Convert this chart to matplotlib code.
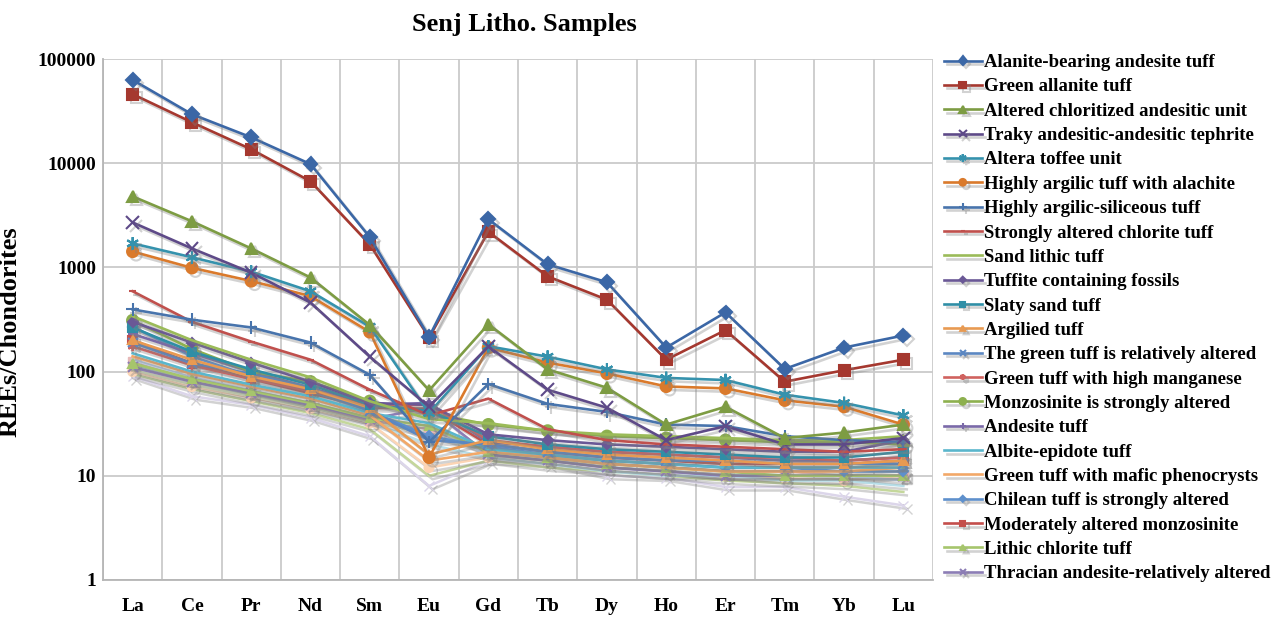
import matplotlib
matplotlib.use('Agg')
import matplotlib.pyplot as plt
import matplotlib.patheffects as pe
import numpy as np

matplotlib.rcParams['font.family'] = 'serif'
matplotlib.rcParams['font.serif'] = ['Liberation Serif', 'DejaVu Serif']
matplotlib.rcParams['font.weight'] = 'bold'

elements = ['La', 'Ce', 'Pr', 'Nd', 'Sm', 'Eu', 'Gd', 'Tb', 'Dy', 'Ho', 'Er', 'Tm', 'Yb', 'Lu']

# chondrite-normalised REE, one list per sample
alanite_tuff = [63000, 29500, 17700, 9800, 1950, 215, 2900, 1070, 720, 170, 370, 106, 170, 222]
green_allanite = [46000, 24700, 13600, 6700, 1660, 212, 2200, 820, 490, 130, 250, 80, 103, 130]
altered_chloritized = [4800, 2770, 1520, 800, 280, 66, 285, 105, 70, 31, 46, 23, 26, 31]
traky_tephrite = [2700, 1520, 890, 460, 139, 46, 174, 67, 45, 22, 30, 20, 20, 23]
altera_toffee = [1700, 1250, 910, 590, 270, 40, 175, 139, 105, 87, 83, 60, 50, 38]
argilic_alachite = [1420, 990, 740, 530, 240, 15, 170, 122, 96, 72, 69, 53, 46, 31]
argilic_siliceous = [395, 315, 265, 190, 93, 21, 76, 49, 41, 31, 30, 24, 22, 21]
strongly_chlorite = [590, 300, 194, 130, 67, 38, 55, 28, 22, 20, 19, 18, 17, 18]
sand_lithic = [340, 200, 130, 88, 52, 35, 32, 27, 25, 24, 23, 22, 22, 24]
tuffite_fossils = [300, 190, 122, 80, 50, 48, 25, 22, 20, 19, 18, 17, 17, 22]
slaty_sand = [265, 155, 105, 75, 48, 42, 24, 20, 18, 17, 16, 15, 15, 17]
argilied = [200, 130, 90, 68, 45, 16, 22, 18, 16, 15, 14, 13, 13, 14]
green_rel_altered = [190, 120, 95, 70, 42, 22, 20, 17, 15, 14, 14, 13, 13, 13]
green_manganese = [175, 115, 85, 65, 48, 48, 22, 19, 17, 16, 15, 15, 14, 15]
monzosinite_strong = [310, 165, 100, 80, 52, 40, 31, 27, 24, 23, 22, 21, 21, 20]
andesite_tuff = [230, 150, 100, 70, 48, 50, 21, 19, 17, 16, 15, 14, 14, 15]
albite_epidote = [150, 100, 75, 58, 40, 32, 18, 16, 14, 13, 12, 12, 12, 12]
mafic_phenocrysts = [140, 95, 72, 55, 38, 14, 17, 15, 13, 12, 11, 11, 11, 12]
chilean_tuff = [270, 140, 90, 65, 42, 24, 19, 16, 14, 13, 12, 12, 11, 11]
monzosinite_moderate = [200, 120, 85, 62, 45, 44, 20, 17, 15, 14, 13, 13, 13, 14]
lithic_chlorite = [120, 85, 65, 50, 36, 30, 17, 15, 13, 12, 11, 10, 10, 10]
thracian_andesite = [110, 80, 62, 48, 35, 45, 16, 14, 12, 11, 10, 10, 10, 10]

# further samples drawn without a legend entry
extra_1 = [130, 88, 66, 50, 36, 30, 16, 14, 12, 11, 10, 10, 10, 9]
extra_2 = [125, 85, 64, 48, 34, 28, 18, 15, 13, 12, 11, 11, 10, 10]
extra_3 = [105, 75, 58, 45, 33, 25, 17, 15, 14, 13, 12, 12, 12, 13]
extra_4 = [115, 80, 60, 46, 33, 20, 15, 13, 11, 10, 10, 9, 9, 8]
extra_5 = [100, 72, 56, 44, 32, 12, 15, 14, 12, 11, 10, 9.5, 9, 10]
extra_6 = [95, 68, 52, 40, 28, 10, 14, 12, 11, 10, 9, 8.5, 8, 7]
extra_7 = [90, 58, 48, 36, 24, 8, 14, 13, 10, 9.6, 7.8, 7.8, 6.3, 5.2]

labels = ['Alanite-bearing andesite tuff', 'Green allanite tuff',
          'Altered chloritized andesitic unit', 'Traky andesitic-andesitic tephrite',
          'Altera toffee unit', 'Highly argilic tuff with alachite',
          'Highly argilic-siliceous tuff', 'Strongly altered chlorite tuff',
          'Sand lithic tuff', 'Tuffite containing fossils', 'Slaty sand tuff',
          'Argilied tuff', 'The green tuff is relatively altered',
          'Green tuff with high manganese', 'Monzosinite is strongly altered',
          'Andesite tuff', 'Albite-epidote tuff', 'Green tuff with mafic phenocrysts',
          'Chilean tuff is strongly altered', 'Moderately altered monzosinite',
          'Lithic chlorite tuff', 'Thracian andesite-relatively altered']

samples = [alanite_tuff, green_allanite, altered_chloritized, traky_tephrite,
           altera_toffee, argilic_alachite, argilic_siliceous, strongly_chlorite,
           sand_lithic, tuffite_fossils, slaty_sand, argilied, green_rel_altered,
           green_manganese, monzosinite_strong, andesite_tuff, albite_epidote,
           mafic_phenocrysts, chilean_tuff, monzosinite_moderate, lithic_chlorite,
           thracian_andesite]
extras = [extra_1, extra_2, extra_3, extra_4, extra_5, extra_6, extra_7]

colors = ['#3B67A6', '#A5382F', '#7D9C43', '#5E4A88', '#3592AD', '#DA7A2C',
          '#4874AC', '#C0504D', '#9BBB59', '#6A5896', '#2F8EA6', '#E89A52',
          '#5B87C2', '#D0625F', '#8DB04E', '#7A69A8', '#5AB6CC', '#F2A868',
          '#5E90CC', '#C44E4B', '#A6C56C', '#8C7DB5']
markers = ['D', 's', '^', 'x', (6, 2, 0), 'o', '+', '_', '', 'D', 's', '^',
           'x', (6, 2, 0), 'o', '+', '', '', 'D', 's', '^', 'x']
msizes = [7, 8, 8, 9, 9, 8, 9, 5, 0, 5, 6, 6, 7, 7, 8, 7, 0, 0, 5, 6, 6, 7]

extra_colors = ['#B9CDE5', '#E6B9B8', '#D7E4BD', '#B7DEE8', '#FCD5B5', '#C4D79B', '#DCD6EA']
extra_markers = ['', 's', '', '', 'o', '', 'x']

x = np.arange(len(elements))
shadow = [pe.SimpleLineShadow(offset=(2.5, -2.5), shadow_color='#808080', alpha=0.35), pe.Normal()]

fig = plt.figure(figsize=(12.83, 6.18), dpi=100)
ax = fig.add_axes([103 / 1283, 38 / 618, 830 / 1283, 521 / 618])

# pale samples go underneath
for vals, c, m in zip(extras[::-1], extra_colors[::-1], extra_markers[::-1]):
    ax.plot(x, vals, color=c, marker=m, markersize=7, linewidth=1.8,
            path_effects=shadow, label='_nolegend_')

for i in range(len(samples) - 1, -1, -1):
    ax.plot(x, samples[i], color=colors[i], marker=markers[i], markersize=msizes[i],
            markeredgewidth=1.5, linewidth=1.9, path_effects=shadow, label=labels[i])

ax.set_yscale('log')
ax.set_ylim(1, 100000)
ax.set_xlim(-0.5, len(elements) - 0.5)
ax.set_yticks([1, 10, 100, 1000, 10000, 100000])
ax.set_yticklabels(['1', '10', '100', '1000', '10000', '100000'])
ax.yaxis.set_minor_locator(matplotlib.ticker.NullLocator())
ax.set_xticks(x)
ax.set_xticklabels(elements)
ax.set_xticks(np.arange(-0.5, len(elements)), minor=True)
ax.tick_params(axis='y', which='major', length=0, pad=5, labelsize=14)
ax.tick_params(axis='x', which='major', length=0, pad=13, labelsize=14)
ax.tick_params(axis='x', which='minor', length=0)
ax.grid(True, axis='y', which='major', color='#CACACA', linewidth=1.3)
ax.grid(True, axis='x', which='minor', color='#CACACA', linewidth=1.3)
ax.set_axisbelow(True)
for side in ['top', 'right']:
    ax.spines[side].set_visible(False)
for side in ['left', 'bottom']:
    ax.spines[side].set_color('#B5B5B5')
    ax.spines[side].set_linewidth(1.3)

ax.set_ylabel('REEs/Chondorites', fontsize=19, fontweight='bold')
ax.yaxis.set_label_coords((22 - 103) / 830, 0.476)
fig.text(524 / 1283, 1 - 25 / 618, 'Senj Litho. Samples', fontsize=19,
         fontweight='bold', ha='center', va='center')

handles, labs = ax.get_legend_handles_labels()
handles, labs = handles[::-1], labs[::-1]
leg = fig.legend(handles, labs, loc='upper left', bbox_to_anchor=(944 / 1283, 1 - 54 / 618),
                 frameon=False, fontsize=13.5, handlelength=2.0, handletextpad=0.15,
                 labelspacing=0.385, borderaxespad=0, borderpad=0, markerscale=0.6)

fig.savefig('out.png', dpi=100)
